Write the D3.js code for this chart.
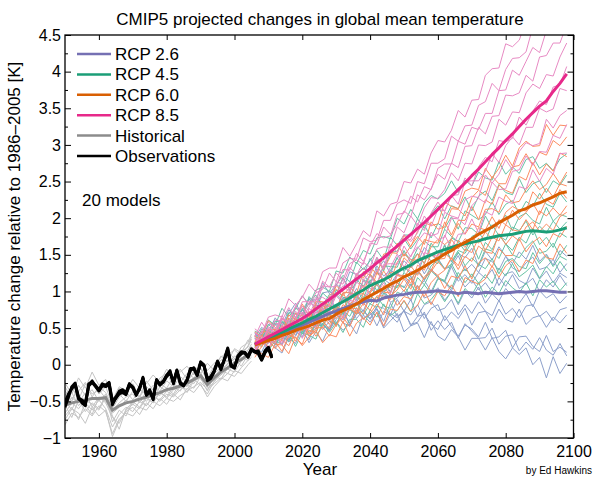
<!DOCTYPE html>
<html><head><meta charset="utf-8">
<script src="https://cdn.jsdelivr.net/npm/d3@7"></script>
<style>body{margin:0;background:#fff}text{font-family:"Liberation Sans",Arial,Helvetica,sans-serif}</style>
</head><body><svg id="c" width="598" height="482"></svg>
<script>
// ---------- data ----------
const histYears = d3.range(1950, 2005, 2).concat([2005]);
const projYears = d3.range(2006, 2099, 2);
const obsYears = d3.range(1950, 2012);
const xTicks = [1960, 1980, 2000, 2020, 2040, 2060, 2080, 2100];
const yTicks = [-1, -0.5, 0, 0.5, 1, 1.5, 2, 2.5, 3, 3.5, 4, 4.5];
const yMinorTicks = [-0.75, -0.25, 0.25, 0.75, 1.25, 1.75, 2.25, 2.75, 3.25, 3.75, 4.25];
const scenarioNames = ["RCP 2.6", "RCP 4.5", "RCP 6.0", "RCP 8.5"];

const histModels = [
 [-.35,-.50,-.28,-.42,-.22,-.40,-.30,-.55,-.32,-.40,-.26,-.44,-.22,-.35,-.18,-.12,-.28,-.06,-.20,-.02,-.12,.02,-.08,.12,.04,.22,.16,.34,.30],
 [-.70,-.58,-.75,-.52,-.62,-.48,-.60,-.85,-.68,-.58,-.64,-.50,-.56,-.44,-.48,-.36,-.42,-.30,-.34,-.20,-.28,-.40,-.22,-.14,-.06,-.10,.05,.12,.18],
 [-.48,-.62,-.40,-.55,-.68,-.44,-.52,-.72,-.80,-.62,-.54,-.60,-.46,-.52,-.38,-.44,-.30,-.36,-.20,-.26,-.10,-.32,-.24,-.10,.02,.08,-.02,.14,.22],
 [-.82,-.66,-.72,-.60,-.70,-.56,-.64,-.94,-.74,-.66,-.70,-.58,-.62,-.50,-.56,-.46,-.50,-.42,-.36,-.30,-.24,-.34,-.26,-.18,-.22,-.08,-.12,0.0,.05],
 [-.25,-.40,-.18,-.32,-.10,-.28,-.20,-.48,-.30,-.36,-.20,-.32,-.26,-.14,-.24,-.06,-.18,-.10,-.02,-.14,.06,-.08,.02,.10,.18,.08,.24,.30,.42],
 [-.60,-.45,-.52,-.38,-.58,-.44,-.50,-.66,-.58,-.48,-.55,-.42,-.50,-.38,-.42,-.32,-.40,-.24,-.30,-.18,-.12,-.30,-.16,-.06,0.0,.12,.06,.20,.25],
 [-.55,-.72,-.48,-.64,-.52,-.60,-.42,-.78,-.62,-.70,-.50,-.58,-.44,-.52,-.36,-.46,-.34,-.28,-.38,-.22,-.18,-.36,-.14,-.20,-.04,.04,.10,.06,.16],
 [-.42,-.30,-.48,-.26,-.40,-.34,-.46,-.60,-.44,-.36,-.48,-.34,-.40,-.28,-.36,-.22,-.30,-.16,-.24,-.10,-.04,-.22,-.08,.02,.10,.04,.18,.24,.35],
 [-.75,-.60,-.66,-.80,-.58,-.70,-.62,-.98,-.76,-.64,-.58,-.68,-.52,-.60,-.46,-.54,-.40,-.48,-.32,-.38,-.26,-.44,-.30,-.20,-.12,-.16,-.04,.06,.10],
 [-.30,-.46,-.36,-.24,-.44,-.30,-.38,-.56,-.40,-.50,-.36,-.44,-.30,-.38,-.26,-.32,-.16,-.24,-.12,-.18,-.06,-.18,-.02,.06,.14,.20,.12,.26,.38],
 [-.66,-.52,-.60,-.48,-.54,-.62,-.44,-.70,-.88,-.60,-.52,-.46,-.56,-.42,-.50,-.40,-.44,-.34,-.28,-.32,-.16,-.26,-.20,-.08,-.12,.02,.08,.16,.12],
 [-.50,-.38,-.56,-.44,-.34,-.50,-.40,-.62,-.52,-.44,-.40,-.52,-.36,-.46,-.30,-.36,-.26,-.32,-.20,-.12,-.20,-.28,-.12,-.04,.06,.00,.14,.20,.28]
];
const histMean = [-.55,-.52,-.50,-.48,-.46,-.46,-.45,-.62,-.56,-.52,-.50,-.47,-.44,-.41,-.38,-.34,-.32,-.29,-.25,-.20,-.15,-.27,-.18,-.10,-.04,.02,.07,.14,.20];

const rcp26Models = [
 [.20,.11,.32,.23,.16,.37,.29,.49,.30,.45,.32,.53,.59,.47,.56,.42,.68,.58,.71,.50,.60,.70,.45,.53,.57,.37,.59,.39,.33,.48,.38,.20,.36,.36,.20,.37,.18,.08,.23,.14,.23,.00,.10,-.18,.11,-.12,.02],
 [.21,.33,.32,.23,.46,.33,.47,.43,.34,.58,.55,.47,.71,.57,.53,.74,.62,.72,.53,.73,.67,.58,.75,.53,.66,.69,.55,.48,.67,.52,.39,.54,.49,.38,.58,.36,.38,.47,.23,.38,.39,.25,.18,.40,.18,.24,.17],
 [.43,.35,.30,.48,.46,.34,.57,.45,.58,.66,.48,.59,.55,.75,.54,.69,.74,.62,.76,.52,.70,.64,.73,.55,.58,.72,.47,.60,.48,.58,.36,.56,.46,.36,.37,.50,.28,.39,.41,.19,.31,.21,.37,.20,.13,.29,.12],
 [.24,.42,.32,.42,.27,.50,.46,.38,.63,.48,.61,.47,.62,.71,.57,.78,.63,.68,.77,.59,.84,.66,.73,.68,.82,.63,.77,.82,.60,.72,.63,.77,.54,.71,.73,.57,.76,.62,.58,.76,.55,.64,.67,.51,.65,.57,.68],
 [.25,.17,.37,.27,.47,.31,.39,.54,.39,.56,.55,.46,.68,.61,.78,.63,.75,.63,.80,.77,.68,.89,.73,.89,.66,.82,.86,.74,.77,.89,.68,.82,.70,.86,.73,.67,.88,.69,.77,.64,.80,.82,.66,.73,.60,.75,.78],
 [.28,.45,.30,.44,.40,.56,.40,.61,.58,.54,.77,.66,.80,.67,.84,.84,.73,.96,.85,1.03,.85,.91,1.02,.87,1.08,.91,.95,1.05,.88,1.00,.82,1.01,.91,1.06,.84,.97,.87,1.04,.93,.84,.97,.79,1.01,.91,.97,.84,.94],
 [.42,.34,.43,.36,.58,.52,.70,.56,.71,.60,.84,.79,.74,.92,.86,1.04,.87,1.01,1.09,.96,.91,1.12,1.05,1.21,1.04,1.15,1.00,1.18,1.13,1.01,1.21,1.06,1.16,1.02,1.12,.99,1.19,1.07,1.23,1.04,1.10,1.18,1.00,1.16,1.06,1.22,1.08],
 [.20,.36,.47,.35,.48,.42,.62,.75,.60,.72,.73,.93,.76,.98,.99,.92,1.15,1.04,.97,1.17,1.10,1.24,1.20,1.07,1.28,1.15,1.31,1.19,1.13,1.34,1.14,1.23,1.11,1.26,1.18,1.30,1.08,1.24,1.27,1.15,1.10,1.32,1.17,1.28,1.12,1.25,1.19],
 [.44,.34,.55,.56,.52,.75,.65,.74,.90,.74,.98,1.00,.95,1.18,1.01,1.12,1.24,1.10,1.35,1.21,1.29,1.23,1.42,1.32,1.42,1.24,1.40,1.45,1.31,1.34,1.49,1.28,1.37,1.26,1.45,1.41,1.29,1.48,1.32,1.27,1.39,1.47,1.30,1.33,1.44,1.26,1.38],
 [.38,.51,.44,.64,.52,.69,.84,.68,.90,.88,1.12,.97,1.10,1.02,1.27,1.23,1.21,1.45,1.29,1.42,1.24,1.47,1.53,1.44,1.39,1.60,1.50,1.42,1.64,1.40,1.52,1.46,1.59,1.34,1.55,1.43,1.61,1.48,1.38,1.54,1.44,1.63,1.41,1.51,1.36,1.56,1.48]
];
const rcp45Models = [
 [.20,.36,.19,.33,.28,.43,.25,.44,.40,.35,.57,.44,.58,.44,.62,.62,.51,.75,.65,.83,.67,.74,.87,.72,.97,.83,.89,1.01,.86,1.00,.84,1.04,.95,1.12,.92,1.06,.97,1.15,1.05,.98,1.12,.94,1.16,1.06,1.14,1.01,1.12],
 [.37,.29,.36,.28,.48,.41,.58,.42,.55,.43,.66,.60,.55,.73,.66,.84,.68,.83,.93,.80,.77,.99,.95,1.10,.96,1.09,.97,1.17,1.14,1.04,1.26,1.12,1.24,1.11,1.23,1.11,1.32,1.21,1.38,1.20,1.27,1.36,1.18,1.34,1.24,1.41,1.28],
 [.17,.32,.41,.28,.39,.32,.49,.60,.44,.54,.53,.71,.54,.75,.75,.69,.93,.83,.78,.98,.92,1.08,1.07,.94,1.19,1.09,1.28,1.19,1.15,1.38,1.20,1.31,1.20,1.37,1.31,1.45,1.24,1.41,1.45,1.34,1.31,1.53,1.38,1.49,1.34,1.48,1.43],
 [.36,.25,.44,.44,.38,.60,.47,.54,.69,.51,.74,.74,.69,.91,.74,.86,.98,.86,1.13,.99,1.08,1.05,1.26,1.16,1.30,1.16,1.35,1.43,1.31,1.37,1.54,1.35,1.46,1.36,1.58,1.55,1.45,1.65,1.50,1.46,1.60,1.69,1.52,1.55,1.66,1.49,1.63],
 [.28,.40,.30,.49,.35,.50,.63,.45,.64,.60,.83,.66,.79,.69,.94,.91,.89,1.16,1.01,1.15,.99,1.24,1.34,1.24,1.24,1.49,1.42,1.38,1.63,1.41,1.56,1.52,1.67,1.44,1.67,1.57,1.77,1.65,1.56,1.74,1.66,1.86,1.64,1.74,1.60,1.80,1.74],
 [.40,.33,.55,.47,.41,.63,.56,.77,.60,.76,.65,.88,.96,.86,.98,.88,1.16,1.11,1.28,1.13,1.28,1.46,1.27,1.40,1.52,1.38,1.66,1.53,1.52,1.73,1.68,1.55,1.75,1.80,1.69,1.91,1.76,1.70,1.88,1.83,1.96,1.77,1.89,1.80,1.96,1.85,1.95],
 [.26,.40,.41,.34,.59,.48,.65,.62,.55,.81,.80,.76,1.02,.92,.91,1.16,1.07,1.23,1.09,1.35,1.34,1.33,1.56,1.39,1.59,1.69,1.61,1.61,1.85,1.75,1.68,1.87,1.86,1.78,2.03,1.86,1.92,2.04,1.83,2.02,2.07,1.97,1.92,2.15,1.96,2.05,2.02],
 [.46,.41,.38,.59,.60,.52,.78,.68,.84,.95,.81,.96,.96,1.19,1.02,1.23,1.32,1.26,1.46,1.28,1.53,1.55,1.72,1.58,1.71,1.91,1.73,1.93,1.86,2.02,1.85,2.10,2.04,1.98,2.05,2.22,2.05,2.19,2.24,2.06,2.23,2.16,2.34,2.19,2.15,2.34,2.22],
 [.28,.49,.42,.55,.44,.71,.70,.64,.93,.82,.98,.89,1.09,1.22,1.13,1.40,1.30,1.42,1.56,1.43,1.74,1.63,1.77,1.77,1.99,1.86,2.06,2.17,1.99,2.17,2.13,2.29,2.10,2.30,2.37,2.24,2.46,2.35,2.32,2.54,2.35,2.47,2.51,2.35,2.51,2.45,2.59],
 [.43,.38,.61,.54,.77,.66,.76,.94,.82,1.02,1.06,1.00,1.28,1.25,1.47,1.38,1.56,1.51,1.73,1.75,1.72,2.00,1.92,2.12,1.99,2.21,2.31,2.26,2.34,2.51,2.35,2.52,2.44,2.63,2.55,2.52,2.77,2.60,2.70,2.61,2.80,2.84,2.68,2.75,2.65,2.81,2.88]
];
const rcp60Models = [
 [.23,.15,.10,.28,.27,.15,.38,.26,.38,.47,.30,.41,.38,.59,.39,.57,.64,.54,.72,.53,.76,.74,.88,.73,.81,1.01,.82,1.00,.94,1.09,.93,1.19,1.14,1.10,1.17,1.35,1.19,1.35,1.43,1.27,1.43,1.38,1.59,1.46,1.44,1.65,1.52],
 [.14,.32,.22,.32,.18,.40,.37,.28,.53,.39,.52,.39,.55,.65,.52,.75,.62,.70,.83,.68,.97,.81,.93,.90,1.08,.93,1.12,1.22,1.04,1.21,1.18,1.35,1.17,1.39,1.46,1.33,1.58,1.49,1.49,1.72,1.54,1.67,1.74,1.61,1.79,1.74,1.89],
 [.33,.24,.44,.33,.54,.37,.44,.59,.42,.59,.59,.49,.72,.65,.83,.69,.84,.74,.94,.94,.89,1.12,1.00,1.18,1.00,1.20,1.29,1.22,1.29,1.46,1.30,1.48,1.41,1.62,1.54,1.52,1.79,1.64,1.76,1.69,1.88,1.95,1.82,1.92,1.83,2.02,2.08],
 [.23,.40,.23,.37,.34,.48,.32,.52,.47,.44,.67,.55,.70,.57,.76,.77,.69,.94,.87,1.07,.94,1.02,1.17,1.03,1.29,1.17,1.27,1.41,1.30,1.46,1.35,1.58,1.53,1.73,1.56,1.74,1.69,1.91,1.84,1.82,1.98,1.84,2.10,2.03,2.14,2.04,2.17],
 [.39,.31,.39,.30,.52,.45,.63,.48,.60,.49,.73,.68,.63,.82,.76,.96,.81,.98,1.10,.99,.98,1.22,1.18,1.35,1.22,1.38,1.28,1.51,1.52,1.44,1.70,1.60,1.74,1.66,1.81,1.72,1.98,1.91,2.11,1.98,2.08,2.20,2.05,2.25,2.19,2.39,2.27],
 [.10,.25,.34,.22,.34,.26,.45,.56,.39,.50,.51,.69,.52,.75,.76,.70,.97,.88,.86,1.08,1.05,1.22,1.22,1.11,1.36,1.29,1.51,1.44,1.45,1.71,1.58,1.72,1.66,1.87,1.84,2.02,1.86,2.08,2.16,2.11,2.10,2.36,2.26,2.41,2.29,2.47,2.44],
 [.40,.29,.48,.48,.43,.64,.52,.60,.73,.56,.79,.80,.75,.98,.82,.94,1.08,.97,1.26,1.14,1.26,1.23,1.46,1.37,1.51,1.38,1.61,1.71,1.64,1.72,1.93,1.78,1.92,1.88,2.12,2.13,2.08,2.32,2.21,2.23,2.39,2.51,2.39,2.46,2.61,2.47,2.63],
 [.28,.40,.30,.49,.36,.51,.64,.46,.65,.62,.84,.68,.81,.73,.98,.96,.97,1.24,1.12,1.28,1.14,1.40,1.51,1.43,1.43,1.71,1.68,1.66,1.95,1.77,1.97,1.97,2.16,1.98,2.25,2.19,2.45,2.38,2.34,2.57,2.52,2.76,2.59,2.74,2.64,2.89,2.84],
 [.45,.38,.60,.51,.46,.68,.62,.83,.65,.82,.71,.94,1.03,.94,1.06,.97,1.27,1.22,1.43,1.30,1.48,1.66,1.48,1.62,1.75,1.64,1.95,1.85,1.88,2.13,2.12,2.03,2.28,2.38,2.31,2.57,2.47,2.47,2.70,2.72,2.88,2.73,2.90,2.86,3.06,2.99,3.11],
 [.31,.45,.45,.39,.64,.52,.70,.67,.59,.86,.86,.81,1.08,.99,.98,1.23,1.18,1.34,1.23,1.51,1.53,1.52,1.77,1.61,1.82,1.94,1.90,1.92,2.22,2.16,2.13,2.37,2.41,2.39,2.68,2.55,2.68,2.86,2.71,2.96,3.05,2.98,2.99,3.28,3.13,3.27,3.26]
];
const rcp85Models = [
 [.20,.32,.22,.41,.27,.41,.54,.36,.55,.52,.75,.59,.72,.63,.88,.85,.83,1.09,.97,1.12,.97,1.23,1.34,1.27,1.26,1.53,1.50,1.48,1.77,1.59,1.78,1.79,1.99,1.80,2.09,2.04,2.29,2.23,2.20,2.43,2.40,2.66,2.50,2.68,2.60,2.88,2.89],
 [.35,.28,.50,.42,.36,.58,.51,.72,.54,.72,.61,.84,.94,.84,.97,.86,1.15,1.09,1.30,1.16,1.33,1.51,1.33,1.49,1.61,1.50,1.81,1.71,1.74,2.00,1.99,1.91,2.17,2.27,2.21,2.49,2.39,2.40,2.64,2.66,2.85,2.72,2.91,2.90,3.13,3.09,3.28],
 [.21,.35,.36,.29,.54,.42,.58,.56,.49,.76,.76,.72,.99,.89,.89,1.13,1.05,1.21,1.10,1.37,1.38,1.37,1.62,1.47,1.68,1.80,1.76,1.79,2.08,2.03,2.00,2.25,2.30,2.28,2.59,2.48,2.60,2.80,2.66,2.91,3.03,2.99,3.02,3.35,3.23,3.40,3.47],
 [.43,.38,.35,.56,.57,.47,.73,.64,.79,.92,.78,.93,.93,1.18,1.01,1.22,1.31,1.25,1.47,1.31,1.57,1.60,1.78,1.68,1.80,2.03,1.89,2.12,2.10,2.31,2.19,2.50,2.51,2.51,2.64,2.88,2.76,2.99,3.11,3.00,3.24,3.24,3.50,3.45,3.49,3.77,3.74],
 [.16,.37,.29,.42,.30,.56,.55,.49,.77,.67,.84,.74,.94,1.08,.99,1.25,1.15,1.26,1.43,1.31,1.65,1.53,1.69,1.71,1.93,1.83,2.07,2.22,2.09,2.31,2.32,2.55,2.44,2.70,2.83,2.77,3.06,3.04,3.09,3.38,3.27,3.46,3.60,3.55,3.79,3.82,4.07],
 [.35,.29,.52,.44,.67,.53,.62,.80,.67,.89,.92,.86,1.13,1.10,1.33,1.22,1.40,1.33,1.58,1.61,1.60,1.88,1.80,2.03,1.90,2.14,2.28,2.27,2.39,2.62,2.51,2.75,2.74,3.00,2.99,3.04,3.35,3.27,3.45,3.44,3.71,3.83,3.77,3.96,3.94,4.20,4.39],
 [.38,.58,.44,.61,.60,.78,.63,.86,.86,.87,1.14,1.06,1.25,1.16,1.38,1.43,1.37,1.66,1.64,1.88,1.78,1.91,2.10,2.02,2.32,2.25,2.40,2.60,2.53,2.75,2.69,2.98,2.99,3.24,3.15,3.39,3.40,3.68,3.67,3.71,3.95,3.87,4.20,4.22,4.39,4.39,4.64],
 [.37,.32,.44,.39,.63,.59,.80,.68,.85,.79,1.08,1.06,1.07,1.30,1.29,1.52,1.41,1.62,1.79,1.73,1.76,2.05,2.07,2.30,2.22,2.43,2.39,2.68,2.74,2.74,3.05,3.01,3.24,3.21,3.43,3.43,3.74,3.75,4.02,3.95,4.14,4.33,4.26,4.56,4.57,4.87,4.89],
 [.27,.46,.58,.49,.63,.59,.79,.94,.82,.98,1.03,1.25,1.13,1.39,1.45,1.44,1.73,1.68,1.70,1.97,1.97,2.20,2.25,2.20,2.50,2.47,2.75,2.75,2.81,3.12,3.05,3.26,3.27,3.54,3.59,3.84,3.74,4.03,4.18,4.19,4.27,4.61,4.58,4.83,4.79,5.06,5.17],
 [.49,.42,.65,.68,.65,.90,.81,.92,1.10,.99,1.27,1.32,1.32,1.60,1.48,1.65,1.83,1.75,2.10,2.03,2.19,2.22,2.50,2.48,2.67,2.60,2.89,3.06,3.04,3.20,3.47,3.38,3.61,3.62,3.95,4.04,4.05,4.38,4.34,4.43,4.69,4.89,4.84,5.02,5.26,5.23,5.53]
];

const rcp26Mean = [.28,.31,.35,.38,.42,.46,.50,.54,.58,.62,.66,.70,.73,.77,.80,.83,.86,.88,.87,.91,.93,.95,.96,.98,.99,.99,1.00,1.01,1.00,.99,.97,.99,.98,.97,.99,.98,.97,.98,.99,1.00,.99,1.00,1.01,1.01,1.00,.99,.99];
const rcp45Mean = [.28,.32,.36,.40,.44,.49,.53,.57,.62,.66,.71,.76,.81,.86,.91,.97,1.02,1.08,1.12,1.16,1.21,1.27,1.32,1.36,1.42,1.46,1.50,1.54,1.57,1.60,1.63,1.65,1.67,1.69,1.72,1.74,1.76,1.77,1.78,1.80,1.82,1.83,1.82,1.81,1.82,1.84,1.87];
const rcp60Mean = [.27,.30,.33,.36,.40,.43,.47,.50,.53,.57,.61,.63,.69,.74,.78,.83,.89,.94,.99,1.04,1.10,1.14,1.20,1.24,1.29,1.34,1.40,1.45,1.51,1.56,1.62,1.67,1.72,1.78,1.83,1.88,1.94,1.99,2.04,2.10,2.13,2.18,2.21,2.25,2.29,2.34,2.36];
const rcp85Mean = [.28,.33,.38,.43,.48,.53,.58,.63,.69,.76,.83,.89,.96,1.03,1.10,1.17,1.24,1.31,1.39,1.46,1.54,1.62,1.70,1.78,1.86,1.94,2.03,2.12,2.21,2.30,2.39,2.48,2.58,2.67,2.77,2.87,2.96,3.06,3.15,3.25,3.35,3.44,3.53,3.60,3.73,3.84,3.97];

const obsA = [-.51,-.40,-.33,-.27,-.46,-.48,-.53,-.29,-.24,-.30,-.36,-.29,-.30,-.27,-.55,-.45,-.40,-.38,-.41,-.28,-.31,-.41,-.31,-.18,-.41,-.36,-.45,-.20,-.27,-.24,-.16,-.11,-.25,-.08,-.25,-.28,-.21,-.06,-.06,-.15,.03,-.01,-.20,-.17,-.09,.04,-.07,.07,.22,-.02,-.05,.10,.15,.16,.10,.20,.17,.15,.06,.16,.22,.09];
const obsB = [-.58,-.45,-.30,-.25,-.44,-.52,-.56,-.26,-.24,-.28,-.34,-.26,-.28,-.24,-.50,-.44,-.36,-.34,-.38,-.26,-.30,-.40,-.34,-.17,-.40,-.34,-.48,-.22,-.26,-.22,-.14,-.08,-.26,-.08,-.24,-.28,-.22,-.08,-.04,-.14,.02,-.02,-.22,-.19,-.10,.04,-.04,.06,.19,-.02,-.04,.12,.18,.17,.11,.22,.18,.19,.08,.19,.24,.12];
const obsC = [-.55,-.42,-.31,-.28,-.47,-.50,-.55,-.27,-.22,-.29,-.35,-.28,-.28,-.25,-.52,-.46,-.38,-.36,-.40,-.26,-.32,-.42,-.32,-.19,-.42,-.37,-.47,-.21,-.28,-.23,-.15,-.10,-.24,-.07,-.26,-.29,-.20,-.05,-.05,-.14,.04,.00,-.19,-.16,-.08,.05,-.06,.08,.23,.00,-.03,.11,.16,.17,.11,.21,.18,.17,.07,.18,.23,.10];

// ---------- drawing ----------
const W = 598, H = 482;
const L = 65, R = 573.5, T = 35, B = 438;
const svg = d3.select("#c");
svg.append("rect").attr("width", W).attr("height", H).attr("fill", "#fff");
const x = d3.scaleLinear().domain([1950, 2100]).range([L, R]);
const y = d3.scaleLinear().domain([-1, 4.5]).range([B, T]);

svg.append("clipPath").attr("id", "clip").append("rect")
  .attr("x", L).attr("y", T).attr("width", R - L).attr("height", B - T);
const plot = svg.append("g").attr("clip-path", "url(#clip)");

const line = years => d3.line().x((d, i) => x(years[i])).y(d => y(d));

const thinCol = ["#8da0cb", "#66c2a5", "#fc8d62", "#e78ac3"];
const thickCol = ["#7570b3", "#1b9e77", "#d95f02", "#e7298a"];

plot.append("g").selectAll("path").data(histModels).join("path")
  .attr("d", line(histYears)).attr("fill", "none")
  .attr("stroke", "#c4c4c4").attr("stroke-width", 1);

const groups = [rcp26Models, rcp45Models, rcp60Models, rcp85Models];
groups.forEach((g, k) => {
  plot.append("g").selectAll("path").data(g).join("path")
    .attr("d", line(projYears)).attr("fill", "none")
    .attr("stroke", thinCol[k]).attr("stroke-width", 1);
});

plot.append("path").datum(histMean).attr("d", line(histYears))
  .attr("fill", "none").attr("stroke", "#8c8c8c").attr("stroke-width", 3);

[rcp26Mean, rcp45Mean, rcp60Mean, rcp85Mean].forEach((m, k) => {
  plot.append("path").datum(m).attr("d", line(projYears))
    .attr("fill", "none").attr("stroke", thickCol[k]).attr("stroke-width", 3)
    .attr("stroke-linejoin", "round");
});

[obsA, obsB, obsC].forEach(o => {
  plot.append("path").datum(o).attr("d", line(obsYears))
    .attr("fill", "none").attr("stroke", "#000").attr("stroke-width", 2.8)
    .attr("stroke-linejoin", "round");
});

// axes
const fmt = d => (d < 0 ? "\u2212" : "") + Math.abs(d);
const styleAxis = g => { g.select(".domain").remove(); g.selectAll("line").attr("stroke", "#000"); g.selectAll("text").attr("fill", "#000").style("font-family", '"Liberation Sans",Arial,sans-serif'); };

svg.append("g").attr("transform", `translate(0,${B})`)
  .call(d3.axisBottom(x).tickValues(xTicks).tickSize(-5).tickPadding(8).tickFormat(d3.format("d")))
  .attr("font-size", 16).call(styleAxis);
svg.append("g").attr("transform", `translate(0,${T})`)
  .call(d3.axisTop(x).tickValues(xTicks).tickSize(-5).tickFormat(""))
  .call(styleAxis);
svg.append("g").attr("transform", `translate(${L},0)`)
  .call(d3.axisLeft(y).tickValues(yTicks).tickSize(-6).tickPadding(4).tickFormat(fmt))
  .attr("font-size", 16).call(styleAxis);
svg.append("g").attr("transform", `translate(${L},0)`)
  .call(d3.axisLeft(y).tickValues(yMinorTicks).tickSize(-3).tickFormat(""))
  .call(styleAxis);
svg.append("g").attr("transform", `translate(${R},0)`)
  .call(d3.axisRight(y).tickValues(yTicks).tickSize(-6).tickFormat(""))
  .call(styleAxis);
svg.append("g").attr("transform", `translate(${R},0)`)
  .call(d3.axisRight(y).tickValues(yMinorTicks).tickSize(-3).tickFormat(""))
  .call(styleAxis);

svg.append("rect").attr("x", L).attr("y", T).attr("width", R - L).attr("height", B - T)
  .attr("fill", "none").attr("stroke", "#000").attr("stroke-width", 1.3);

// texts
svg.append("text").attr("x", 320).attr("y", 25).attr("text-anchor", "middle")
  .attr("font-size", 17).text("CMIP5 projected changes in global mean temperature");
svg.append("text").attr("x", 320).attr("y", 475).attr("text-anchor", "middle")
  .attr("font-size", 17).text("Year");
svg.append("text").attr("transform", `translate(20,${(T + B) / 2}) rotate(-90)`)
  .attr("text-anchor", "middle").attr("font-size", 17)
  .text("Temperature change relative to 1986\u20132005 [K]");
svg.append("text").attr("x", 592).attr("y", 474).attr("text-anchor", "end")
  .attr("font-size", 10).text("by Ed Hawkins");

// legend
const legNames = scenarioNames.concat(["Historical", "Observations"]);
const legCols = thickCol.concat(["#8c8c8c", "#000"]);
const lg = svg.append("g");
legNames.forEach((n, i) => {
  const yy = 54 + i * 20.4;
  lg.append("line").attr("x1", 77).attr("x2", 111).attr("y1", yy).attr("y2", yy)
    .attr("stroke", legCols[i]).attr("stroke-width", 2.5);
  lg.append("text").attr("x", 115).attr("y", yy + 6).attr("font-size", 17).text(n);
});
svg.append("text").attr("x", 82).attr("y", 206).attr("font-size", 17).text("20 models");
</script>
</body></html>
